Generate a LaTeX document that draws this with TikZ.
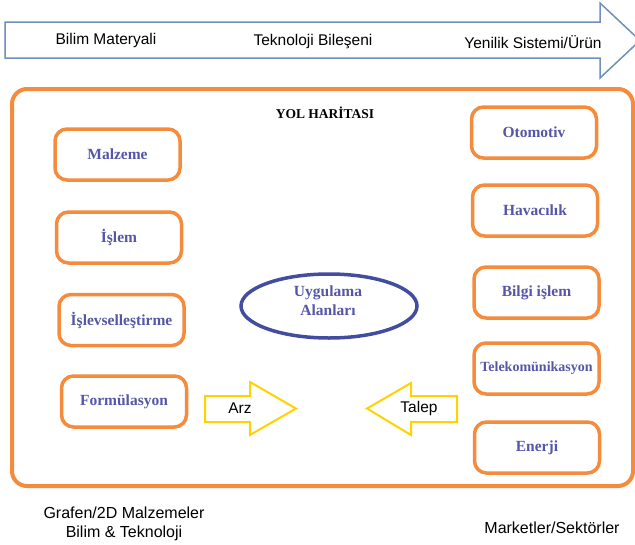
\documentclass[tikz,border=0pt]{standalone}
\usepackage{fontspec}
\setmainfont{Liberation Serif}
\setsansfont{Liberation Sans}
\definecolor{borange}{HTML}{F58B3C}
\definecolor{boxblue}{HTML}{5557A6}
\definecolor{ellblue}{HTML}{434DA0}
\definecolor{arryellow}{HTML}{FFD200}
\definecolor{topblue}{HTML}{6F8FBF}
\tikzset{
  catbox/.style={draw=borange, line width=3.5pt, rounded corners=12pt,
    minimum width=125pt, minimum height=51pt, text=boxblue,
    font=\fontsize{15.5}{18}\selectfont\bfseries},
  sanslabel/.style={font=\sffamily\fontsize{15.5}{18}\selectfont, inner sep=0pt},
  bottomlabel/.style={font=\sffamily\fontsize{16}{19}\selectfont, inner sep=0pt, align=center},
  blockarrow/.style={draw=arryellow, line width=2pt, line join=miter},
}
\begin{document}
\begin{tikzpicture}[x=1pt,y=-1pt]
\useasboundingbox (0,0) rectangle (635,544);
% top process arrow
\draw[topblue, line width=1.5pt, fill=white]
  (5,22) -- (600,22) -- (600,3) -- (640,40.5) -- (600,78) -- (600,58) -- (5,58) -- cycle;
\node[sanslabel] (t1) at (106,40) {Bilim Materyali};
\node[sanslabel] (t2) at (313,42) {Teknoloji Bileşeni};
\node[sanslabel] (t3) at (533,42) {Yenilik Sistemi/Ürün};
% frame
\draw[borange, line width=4pt, rounded corners=15pt] (12,89) rectangle (633,486);
\node[font=\fontsize{13.5}{16}\selectfont\bfseries] (title) at (325,113) {YOL HARİTASI};
% left boxes
\node[catbox] (malzeme) at (117.5,154.5) {Malzeme};
\node[catbox] (islem) at (119,237.5) {İşlem};
\node[catbox] (islev) at (121.5,320) {İşlevselleştirme};
\node[catbox] (formul) at (124,401.5) {Formülasyon};
% right boxes
\node[catbox] (oto) at (534,132.5) {Otomotiv};
\node[catbox] (hava) at (535,210.5) {Havacılık};
\node[catbox] (bilgi) at (536.5,292.5) {Bilgi işlem};
\node[catbox, font=\fontsize{14}{17}\selectfont\bfseries] (tele) at (536.5,368.5) {Telekomünikasyon};
\node[catbox] (enerji) at (537,447.5) {Enerji};
% ellipse
\draw[ellblue, line width=3.5pt] (329,306) ellipse [x radius=88, y radius=32];
\node[text=boxblue, font=\fontsize{15.5}{19}\selectfont\bfseries, align=center] (uyg) at (328,301) {Uygulama\\Alanları};
% supply / demand arrows
\draw[blockarrow] (205,396) -- (250,396) -- (250,382) -- (296,408.5) -- (250,435) -- (250,422) -- (205,422) -- cycle;
\node[sanslabel] (arz) at (240,408) {Arz};
\draw[blockarrow] (457,396) -- (411,396) -- (411,383) -- (367,408.5) -- (411,435) -- (411,422) -- (457,422) -- cycle;
\node[sanslabel] (talep) at (419,408) {Talep};
% bottom labels
\node[bottomlabel] (grafen) at (124,524) {Grafen/2D Malzemeler\\Bilim \& Teknoloji};
\node[bottomlabel] (market) at (552,528) {Marketler/Sektörler};
\end{tikzpicture}
\end{document}
